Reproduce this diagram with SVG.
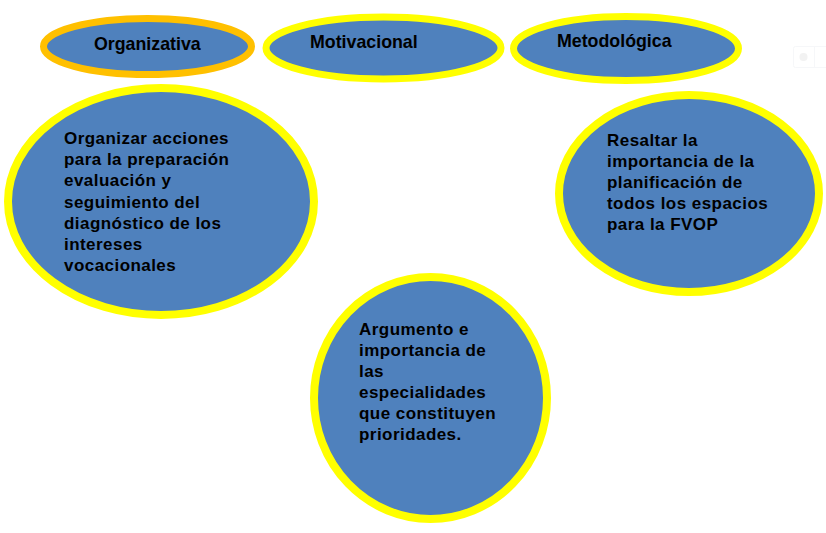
<svg xmlns="http://www.w3.org/2000/svg" width="826" height="533" viewBox="0 0 826 533">
<style>
.n{fill:#4F81BD;stroke:#FFFF00;stroke-width:8}
.o{stroke:#FFC000;stroke-width:7}
.t{font-family:"Liberation Sans",Arial,sans-serif;font-weight:bold;fill:#000;font-size:17px;letter-spacing:0.45px}
.h{font-size:17.8px;letter-spacing:0}
</style>
<rect width="826" height="533" fill="#fff"/>
<g id="connectors"/>
<g id="organizativa">
<ellipse class="n o" cx="147.5" cy="46.5" rx="104" ry="28"/>
<text class="t h" x="94" y="50">Organizativa</text>
</g>
<g id="motivacional">
<ellipse class="n" cx="383.5" cy="48" rx="117.5" ry="31" style="stroke-width:7"/>
<text class="t h" x="310" y="48">Motivacional</text>
</g>
<g id="metodologica">
<ellipse class="n" cx="626" cy="48.5" rx="112.5" ry="32" style="stroke-width:7"/>
<text class="t h" x="557" y="47">Metodológica</text>
</g>
<g id="organizar">
<ellipse class="n" cx="161" cy="201.5" rx="153" ry="113.5"/>
<text class="t" x="64" y="144">Organizar acciones</text>
<text class="t" x="64" y="165.2">para la preparación</text>
<text class="t" x="64" y="186.4">evaluación y</text>
<text class="t" x="64" y="207.6">seguimiento del</text>
<text class="t" x="64" y="228.8">diagnóstico de los</text>
<text class="t" x="64" y="250">intereses</text>
<text class="t" x="64" y="271.2">vocacionales</text>
</g>
<g id="resaltar">
<ellipse class="n" cx="689" cy="193.5" rx="130" ry="98.5"/>
<text class="t" x="607" y="146">Resaltar la</text>
<text class="t" x="607" y="167">importancia de la</text>
<text class="t" x="607" y="188">planificación de</text>
<text class="t" x="607" y="209">todos los espacios</text>
<text class="t" x="607" y="230">para la FVOP</text>
</g>
<g id="argumento">
<ellipse class="n" cx="430.5" cy="398" rx="116.5" ry="121"/>
<text class="t" x="359" y="335">Argumento e</text>
<text class="t" x="359" y="356">importancia de</text>
<text class="t" x="359" y="377">las</text>
<text class="t" x="359" y="398">especialidades</text>
<text class="t" x="359" y="419">que constituyen</text>
<text class="t" x="359" y="440">prioridades.</text>
</g>
<g id="widget" opacity="0.5">
<rect x="793.5" y="46.5" width="40" height="21" rx="2" fill="#fff" stroke="#eef0f4"/>
<line x1="814.5" y1="47" x2="814.5" y2="67" stroke="#eef0f4"/>
<circle cx="803.5" cy="57" r="4" fill="#e6e6e6"/>
</g>
</svg>
